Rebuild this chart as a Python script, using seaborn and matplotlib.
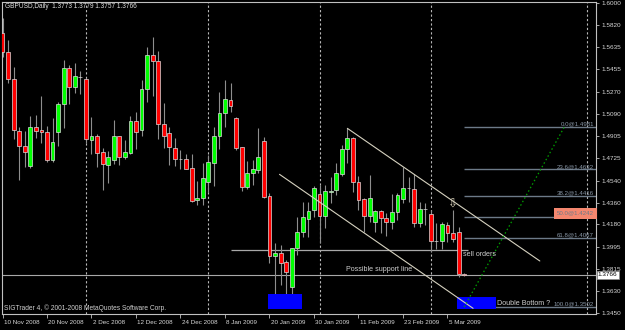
import matplotlib
matplotlib.use("Agg")
import matplotlib.pyplot as plt
import matplotlib.transforms as mtransforms
from matplotlib.patches import Rectangle
import seaborn as sns
import pandas as pd

# ---------------- data ----------------
title_text = "GBPUSD,Daily  1.3773 1.3779 1.3757 1.3766"

opens = [1.5756, 1.5595, 1.5373, 1.4948, 1.4827, 1.4658, 1.4981, 1.4956, 1.4940, 1.4712,
         1.4942, 1.5173, 1.5463, 1.5312, 1.5394, 1.5373, 1.4874, 1.4907, 1.4776, 1.4666,
         1.4712, 1.4907, 1.4737, 1.4770, 1.5028, 1.4954, 1.5293, 1.5570, 1.5523, 1.5003,
         1.4934, 1.4811, 1.4718, 1.4718, 1.4644, 1.4381, 1.4395, 1.4532, 1.4688, 1.4907,
         1.5094, 1.5203, 1.5053, 1.4814, 1.4486, 1.4601, 1.4628, 1.4866, 1.4414, 1.3923,
         1.3943, 1.3874, 1.3669, 1.3984, 1.4121, 1.4225, 1.4299, 1.4428, 1.4252, 1.4444,
         1.4463, 1.4595, 1.4800, 1.4893, 1.4532, 1.4387, 1.4252, 1.4203, 1.4291, 1.4231,
         1.4198, 1.4285, 1.4387, 1.4477, 1.4469, 1.4190, 1.4305, 1.4264, 1.4047, 1.4044,
         1.4176, 1.4108, 1.4121, 1.3773]
highs = [1.5877, 1.5696, 1.5472, 1.4984, 1.4948, 1.5071, 1.5080, 1.5238, 1.4987, 1.5053,
         1.5189, 1.5532, 1.5491, 1.5504, 1.5441, 1.5381, 1.5061, 1.4924, 1.4806, 1.4786,
         1.5039, 1.4907, 1.4874, 1.5071, 1.5107, 1.5367, 1.5641, 1.5718, 1.5608, 1.5176,
         1.4979, 1.4888, 1.4792, 1.4759, 1.4759, 1.4540, 1.4688, 1.4751, 1.4984, 1.5271,
         1.5367, 1.5340, 1.5066, 1.4819, 1.4704, 1.4710, 1.4970, 1.4901, 1.4441, 1.4025,
         1.4011, 1.3888, 1.3984, 1.4244, 1.4367, 1.4367, 1.4496, 1.4504, 1.4504, 1.4573,
         1.4688, 1.4833, 1.4970, 1.4901, 1.4578, 1.4395, 1.4587, 1.4299, 1.4299, 1.4272,
         1.4431, 1.4436, 1.4655, 1.4573, 1.4595, 1.4367, 1.4354, 1.4299, 1.4190, 1.4203,
         1.4203, 1.4299, 1.4162, 1.3779]
lows = [1.5556, 1.5345, 1.4880, 1.4546, 1.4650, 1.4647, 1.4888, 1.4852, 1.4696, 1.4696,
        1.4827, 1.4970, 1.5168, 1.5263, 1.5250, 1.4852, 1.4759, 1.4655, 1.4463, 1.4518,
        1.4677, 1.4666, 1.4721, 1.4759, 1.4798, 1.4907, 1.5189, 1.5236, 1.4880, 1.4806,
        1.4669, 1.4661, 1.4633, 1.4633, 1.4367, 1.4340, 1.4340, 1.4449, 1.4496, 1.4798,
        1.4984, 1.5107, 1.4792, 1.4458, 1.4472, 1.4504, 1.4601, 1.4395, 1.3861, 1.3609,
        1.3683, 1.3491, 1.3532, 1.3929, 1.4080, 1.4080, 1.4244, 1.4025, 1.4149, 1.4354,
        1.4422, 1.4578, 1.4683, 1.4449, 1.4299, 1.4121, 1.4203, 1.4121, 1.4108, 1.4088,
        1.4140, 1.4217, 1.4354, 1.4367, 1.4162, 1.4162, 1.4176, 1.3956, 1.3976, 1.3976,
        1.4039, 1.4039, 1.3751, 1.3757]
closes = [1.5595, 1.5373, 1.4956, 1.4825, 1.4778, 1.4981, 1.4946, 1.4940, 1.4712, 1.4860,
          1.5168, 1.5463, 1.5312, 1.5398, 1.5394, 1.4880, 1.4907, 1.4770, 1.4675, 1.4735,
          1.4907, 1.4737, 1.4776, 1.5028, 1.4940, 1.5293, 1.5573, 1.5526, 1.5003, 1.4907,
          1.4814, 1.4716, 1.4718, 1.4636, 1.4375, 1.4395, 1.4560, 1.4696, 1.4907, 1.5094,
          1.5209, 1.5156, 1.4806, 1.4486, 1.4606, 1.4636, 1.4732, 1.4408, 1.3923, 1.3948,
          1.3861, 1.3792, 1.3984, 1.4121, 1.4244, 1.4293, 1.4482, 1.4252, 1.4455, 1.4458,
          1.4601, 1.4798, 1.4888, 1.4532, 1.4381, 1.4252, 1.4395, 1.4293, 1.4231, 1.4198,
          1.4285, 1.4422, 1.4482, 1.4477, 1.4195, 1.4307, 1.4305, 1.4047, 1.4047, 1.4182,
          1.4108, 1.4061, 1.3771, 1.3766]

date_labels = ["10 Nov 2008", "20 Nov 2008", "2 Dec 2008", "12 Dec 2008", "24 Dec 2008",
               "8 Jan 2009", "20 Jan 2009", "30 Jan 2009", "11 Feb 2009", "23 Feb 2009",
               "5 Mar 2009"]
date_label_bars = [0, 8, 16, 24, 32, 40, 48, 56, 64, 72, 80]
price_ticks = [1.6000, 1.5820, 1.5635, 1.5455, 1.5270, 1.5090, 1.4905, 1.4725, 1.4540,
               1.4360, 1.4180, 1.3995, 1.3815, 1.3630, 1.3450]
separator_bars = [15, 37, 57, 77, 105]

bid_price = 1.3766
support_price = 1.3972
support_bars = [41, 83.7]
upper_channel_bars = [62, 96.6]
upper_channel_prices = [1.4970, 1.3880]
lower_channel_bars = [49.8, 84.6]
lower_channel_prices = [1.4592, 1.3491]
box1_bars = [47.8, 53.8]
box1_prices = [1.3483, 1.3609]
box2_bars = [81.8, 88.7]
box2_prices = [1.3485, 1.3587]

fib_bars = [83, 101]
fib_prices = [1.3502, 1.4981]   # 100% level, 0% level
fib_levels = [0.0, 23.6, 38.2, 50.0, 61.8, 100.0]

arrow_bar, arrow_price = 80.8, 1.4350
notes = [("Possible support line", 61.7, 1.3814),
         ("sell orders", 82.7, 1.3937),
         ("Double Bottom ?", 88.9, 1.3532)]

# ---------------- style ----------------
sns.set_theme(style="dark")
plt.rcParams["font.family"] = ["Liberation Sans", "DejaVu Sans"]
plt.rcParams["axes.facecolor"] = "black"
plt.rcParams["figure.facecolor"] = "black"

fig = plt.figure(figsize=(6.25, 3.3), dpi=100)
ax = fig.add_axes([2 / 625, 16 / 330, 594 / 625, 312 / 330])
ax.set_facecolor("black")

df = pd.DataFrame({"bar": range(len(opens)), "open": opens, "high": highs,
                   "low": lows, "close": closes})
df["bull"] = df["close"] >= df["open"]
df["bottom"] = df[["open", "close"]].min(axis=1)
df["height"] = (df["close"] - df["open"]).abs().clip(lower=0.00012)

GRID = "#b8b8b8"
for b in separator_bars:
    ax.axvline(b, color=GRID, lw=0.8, ls=(0, (2, 2)), zorder=1)

ax.axhline(bid_price, color="#a8a8a8", lw=0.8, zorder=1)
ax.hlines(support_price, support_bars[0], support_bars[1], color="#a8a8a8", lw=0.9, zorder=1)

ax.vlines(df["bar"], df["low"], df["high"], color="#8e8e8e", lw=0.8, zorder=2)
body_colors = ["#00ff00" if b else "#ff0000" for b in df["bull"]]
ax.bar(df["bar"], df["height"], bottom=df["bottom"], width=0.68, color=body_colors,
       edgecolor="#dcdcdc", linewidth=0.5, zorder=3)

line_col = "#d6d2c0"
sns.lineplot(x=upper_channel_bars, y=upper_channel_prices, ax=ax, color=line_col, lw=0.8, zorder=4)
sns.lineplot(x=lower_channel_bars, y=lower_channel_prices, ax=ax, color=line_col, lw=0.8, zorder=4)

for bx, by in [(box1_bars, box1_prices), (box2_bars, box2_prices)]:
    ax.add_patch(Rectangle((bx[0], by[0]), bx[1] - bx[0], by[1] - by[0],
                           facecolor="#0000ff", edgecolor="none", zorder=3.5))

fib_col = "#6c7a88"
fib_hi, fib_lo = fib_prices[1], fib_prices[0]
yx = ax.get_yaxis_transform()
for lvl in fib_levels:
    p = fib_hi - (fib_hi - fib_lo) * lvl / 100.0
    ax.hlines(p, fib_bars[0], 110, color=fib_col, lw=1.0, zorder=2.5)
    lab = f"{lvl:.1f}@{p:.4f}"
    if lvl == 50.0:
        ax.text(0.997, p + 0.0010, lab, transform=yx, ha="right", va="bottom", fontsize=4.4,
                color="#6c7a88", zorder=6,
                bbox=dict(boxstyle="square,pad=0.45", fc="#f4876f", ec="none"))
    else:
        ax.text(0.997, p + 0.0004, lab, transform=yx, ha="right", va="bottom", fontsize=4.4,
                color="#8a98a8", zorder=6)
sns.lineplot(x=fib_bars, y=fib_prices, ax=ax, color="#00a000", lw=0.9,
             linestyle=(0, (1.2, 2)), zorder=4)

for txt, bx, py in notes:
    ax.text(bx, py, txt, ha="left", va="center", fontsize=5.1, color="#d0d0d0", zorder=6)
ax.text(arrow_bar, arrow_price, "\u21e9", ha="center", va="center", fontsize=8.5,
        color="#d8d0b8", family=["DejaVu Sans"], zorder=6)

ax.text(0.005, 0.985, title_text, transform=ax.transAxes, ha="left", va="center",
        fontsize=4.7, color="#e0e0e0")
ax.text(0.003, 0.006, "SIGTrader 4, \u00a9 2001-2008 MetaQuotes Software Corp.",
        transform=ax.transAxes, ha="left", va="bottom", fontsize=4.8, color="#d0d0d0")

ax.set_xlim(-0.09, 106.7)
ax.set_ylim(1.34443, 1.60082)
ax.grid(False)
for s in ax.spines.values():
    s.set_color("#c0c0c0")
    s.set_linewidth(0.8)
    s.set_visible(True)

ax.yaxis.tick_right()
ax.set_yticks(price_ticks)
ax.set_yticklabels([f"{p:.4f}" for p in price_ticks])
ax.tick_params(axis="y", colors="#c0c0c0", labelcolor="#d8d8d8", labelsize=4.6,
               length=2, width=0.6, pad=2, right=True, left=False)
ax.set_xticks(date_label_bars)
ax.set_xticklabels(date_labels)
ax.tick_params(axis="x", colors="#c0c0c0", labelcolor="#d8d8d8", labelsize=4.5,
               length=3, width=0.6, pad=1.5, bottom=True)
offset = mtransforms.ScaledTranslation(1.5 / 100, 0, fig.dpi_scale_trans)
for lab in ax.get_xticklabels():
    lab.set_ha("left")
    lab.set_transform(lab.get_transform() + offset)
ax.set_xlabel("")
ax.set_ylabel("")

ax.text(1.003, bid_price, f"{bid_price:.4f}", transform=yx, ha="left", va="center",
        fontsize=4.6, color="black", zorder=7, clip_on=False,
        bbox=dict(boxstyle="square,pad=0.2", fc="white", ec="#909090", lw=0.5))

fig.savefig("out.png", dpi=100, facecolor="black")
